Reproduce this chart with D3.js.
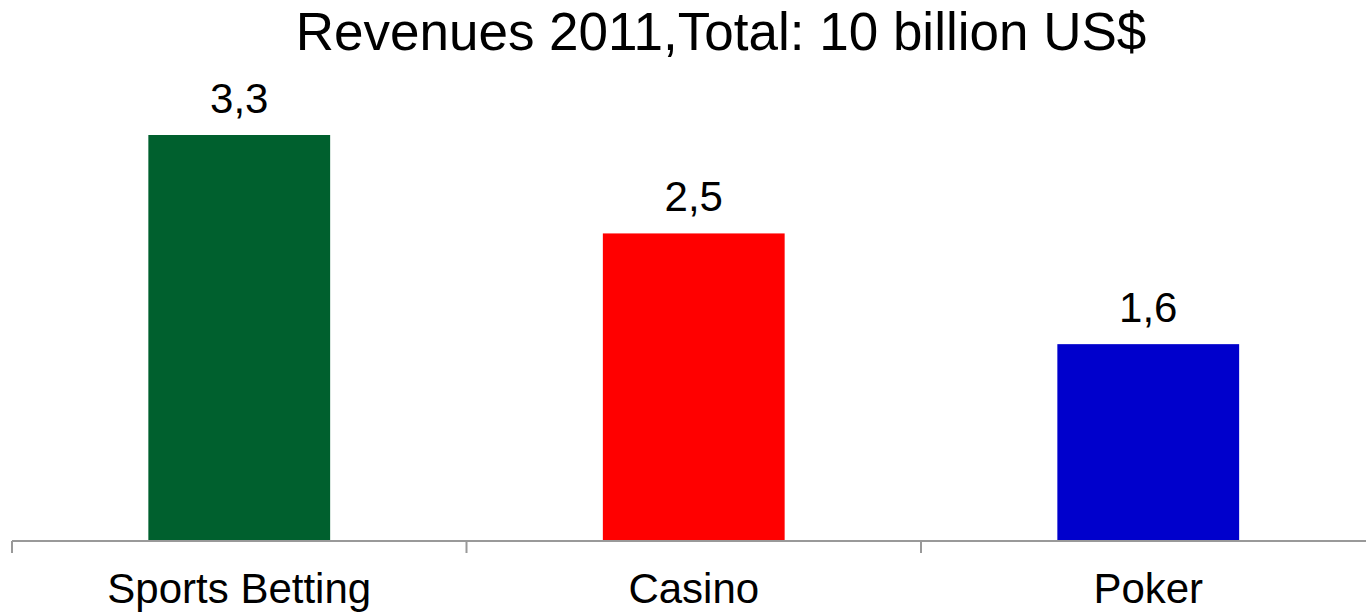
<!DOCTYPE html>
<html>
<head>
<meta charset="utf-8">
<script src="https://cdn.jsdelivr.net/npm/d3@7"></script>
<style>
  body { margin: 0; background: #fff; overflow: hidden; }
  svg { display: block; font-family: "Liberation Sans", Arial, sans-serif; }
</style>
</head>
<body>
<div id="chart"></div>
<script>
const categories = ["Sports Betting", "Casino", "Poker"];
const values = [3.3, 2.5, 1.6];
const valueLabels = ["3,3", "2,5", "1,6"];
const colors = ["#00602E", "#FF0000", "#0000CC"];
const title = "Revenues 2011,Total: 10 billion US$";

const width = 1366;
const height = 613;
const baseline = 541;

const svg = d3.select("#chart")
  .append("svg")
  .attr("width", width)
  .attr("height", height);

const x = d3.scaleBand()
  .domain(categories)
  .range([12, 1375.5])
  .paddingInner(0.6)
  .paddingOuter(0.3);

const y = d3.scaleLinear()
  .domain([0, 3.3])
  .range([baseline, 135]);

// bars
svg.selectAll(".bar")
  .data(categories)
  .join("rect")
  .attr("class", "bar")
  .attr("x", d => x(d))
  .attr("y", (d, i) => y(values[i]))
  .attr("width", x.bandwidth())
  .attr("height", (d, i) => y(0) - y(values[i]))
  .style("fill", (d, i) => colors[i]);

// value labels
svg.selectAll(".val")
  .data(categories)
  .join("text")
  .attr("class", "val")
  .attr("x", d => x(d) + x.bandwidth() / 2)
  .attr("y", (d, i) => y(values[i]) - 22)
  .attr("text-anchor", "middle")
  .style("font-size", "42px")
  .text((d, i) => valueLabels[i]);

// x axis: line plus ticks at band boundaries
const step = x.step();
const start = x(categories[0]) - step * x.paddingOuter();
const axis = svg.append("g").attr("class", "x axis");

axis.append("line")
  .attr("x1", start)
  .attr("x2", width)
  .attr("y1", baseline)
  .attr("y2", baseline)
  .attr("stroke", "#999")
  .attr("stroke-width", 2);

axis.selectAll(".tick")
  .data(d3.range(categories.length + 1))
  .join("line")
  .attr("class", "tick")
  .attr("x1", i => start + i * step)
  .attr("x2", i => start + i * step)
  .attr("y1", baseline)
  .attr("y2", baseline + 12)
  .attr("stroke", "#999")
  .attr("stroke-width", 2);

axis.selectAll(".cat")
  .data(categories)
  .join("text")
  .attr("class", "cat")
  .attr("x", d => x(d) + x.bandwidth() / 2)
  .attr("y", 603)
  .attr("text-anchor", "middle")
  .style("font-size", "42px")
  .text(d => d);

svg.append("text")
  .attr("class", "title")
  .attr("x", 721)
  .attr("y", 50)
  .attr("text-anchor", "middle")
  .style("font-size", "53px")
  .text(title);
</script>
</body>
</html>
